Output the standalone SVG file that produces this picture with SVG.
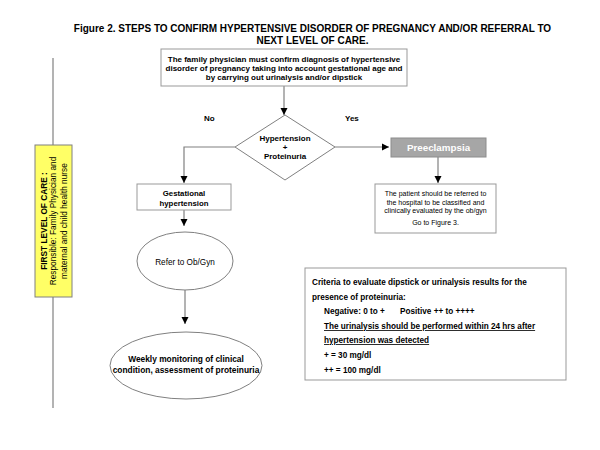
<svg xmlns="http://www.w3.org/2000/svg" width="600" height="450" viewBox="0 0 600 450">
<defs>
<style>
text{font-family:"Liberation Sans",Arial,sans-serif;fill:#000}
.b{font-weight:bold}
.box{fill:#fff;stroke:#999;stroke-width:1}
.ln{fill:none;stroke:#808080;stroke-width:1.2}
</style>
<marker id="ah" markerUnits="userSpaceOnUse" markerWidth="8" markerHeight="8" refX="7" refY="4" orient="auto">
<path d="M0,0.5 L7,4 L0,7.5 Z" fill="#000"/>
</marker>
</defs>
<rect width="600" height="450" fill="#fff"/>
<g id="title" font-size="10" text-anchor="middle">
<text x="312.5" y="32" class="b">Figure 2. STEPS TO CONFIRM HYPERTENSIVE DISORDER OF PREGNANCY AND/OR REFERRAL TO</text>
<text x="312.5" y="44" class="b">NEXT LEVEL OF CARE.</text>
</g>
<g id="connectors">
<line class="ln" x1="53" y1="58" x2="53" y2="408"/>
<line class="ln" x1="284" y1="86" x2="284" y2="115" marker-end="url(#ah)"/>
<polyline class="ln" points="235,147 184,147 184,183" marker-end="url(#ah)"/>
<line class="ln" x1="335" y1="147" x2="389" y2="147" marker-end="url(#ah)"/>
<line class="ln" x1="438" y1="157" x2="438" y2="183" marker-end="url(#ah)"/>
<line class="ln" x1="184" y1="210" x2="184" y2="226" marker-end="url(#ah)"/>
<line class="ln" x1="185" y1="290" x2="185" y2="324" marker-end="url(#ah)"/>
</g>
<g id="level">
<rect x="35" y="145" width="37" height="152" fill="#ffff66" stroke="#808080" stroke-width="1"/>
<g font-size="8.3" text-anchor="middle" transform="translate(53,221) rotate(-90)">
<text x="0" y="-6.5" class="b">FIRST LEVEL OF CARE :</text>
<text x="0" y="3">Responsible: Family Physician and</text>
<text x="0" y="13.5">maternal and child health nurse</text>
</g>
</g>
<g id="confirm">
<rect class="box" x="161" y="49" width="246" height="37"/>
<g font-size="8" text-anchor="middle">
<text x="284" y="62" class="b">The family physician must confirm diagnosis of hypertensive</text>
<text x="284" y="71" class="b">disorder of pregnancy taking into account gestational age and</text>
<text x="284" y="80" class="b">by carrying out urinalysis and/or dipstick</text>
</g>
</g>
<g id="labels" font-size="8">
<text x="204" y="121" class="b">No</text>
<text x="345" y="121" class="b">Yes</text>
</g>
<g id="decision">
<polygon points="285,115 335,147 285,180 235,147" fill="#fff" stroke="#808080" stroke-width="1"/>
<g font-size="8" text-anchor="middle">
<text x="285" y="141" class="b">Hypertension</text>
<text x="285" y="150" class="b">+</text>
<text x="285" y="159" class="b">Proteinuria</text>
</g>
</g>
<g id="preeclampsia">
<rect x="391" y="138" width="95" height="19" fill="#a6a6a6" stroke="#8c8c8c" stroke-width="1"/>
<text x="438.5" y="151" font-size="9.8" text-anchor="middle" class="b" style="fill:#fff">Preeclampsia</text>
</g>
<g id="patient">
<rect class="box" x="375" y="184" width="121" height="49"/>
<g font-size="7" text-anchor="middle">
<text x="435.5" y="196">The patient should be referred to</text>
<text x="435.5" y="204.5">the hospital to be classified and</text>
<text x="435.5" y="213">clinically evaluated by  the ob/gyn</text>
<text x="435.5" y="225">Go to Figure 3.</text>
</g>
</g>
<g id="gestational">
<rect class="box" x="137" y="184" width="94" height="26"/>
<g font-size="7.8" text-anchor="middle">
<text x="184" y="196" class="b">Gestational</text>
<text x="184" y="205.5" class="b">hypertension</text>
</g>
</g>
<g id="refer">
<ellipse cx="185" cy="261" rx="48" ry="29" fill="#fff" stroke="#808080" stroke-width="1"/>
<text x="185" y="265" font-size="8.2" text-anchor="middle">Refer to Ob/Gyn</text>
</g>
<g id="weekly">
<ellipse cx="186" cy="365.5" rx="76" ry="33.5" fill="#fff" stroke="#808080" stroke-width="1"/>
<g font-size="8.4" text-anchor="middle">
<text x="186" y="362" class="b">Weekly monitoring of clinical</text>
<text x="186" y="373" class="b">condition, assessment of proteinuria</text>
</g>
</g>
<g id="criteria">
<rect class="box" x="305" y="268" width="261" height="112"/>
<g font-size="8.2">
<text x="312" y="285" class="b">Criteria to evaluate dipstick or urinalysis results for the</text>
<text x="312" y="300" class="b">presence of proteinuria:</text>
<text x="324" y="314" class="b">Negative: 0 to +</text>
<text x="400" y="314" class="b">Positive ++ to ++++</text>
<text x="324" y="329" class="b" text-decoration="underline">The urinalysis should be performed within 24 hrs after</text>
<text x="324" y="343" class="b" text-decoration="underline">hypertension was detected</text>
<text x="324" y="358" class="b">+ = 30 mg/dl</text>
<text x="324" y="373" class="b">++ = 100 mg/dl</text>
</g>
</g>
</svg>
